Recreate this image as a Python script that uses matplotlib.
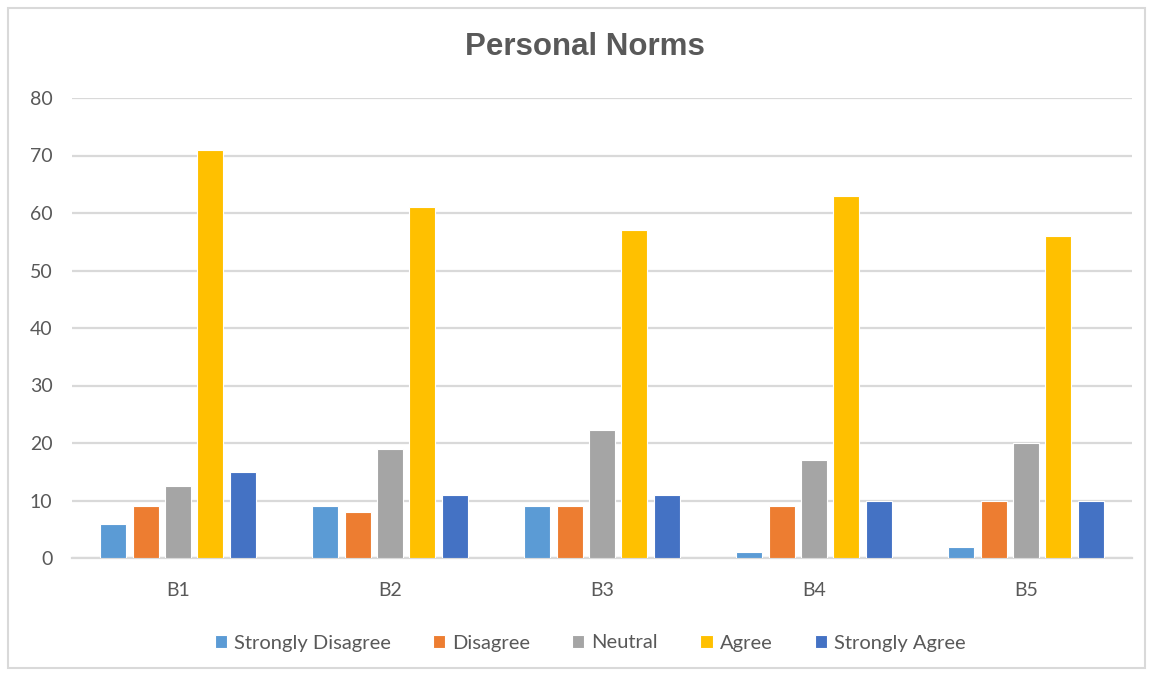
import matplotlib
matplotlib.use("Agg")
import matplotlib.pyplot as plt
from matplotlib.patches import Rectangle
import numpy as np

plt.rcParams['font.family'] = ['Lato', 'DejaVu Sans']

categories = ["B1", "B2", "B3", "B4", "B5"]
series_names = ["Strongly Disagree", "Disagree", "Neutral", "Agree", "Strongly Agree"]
strongly_disagree = [6, 9, 9, 1, 2]
disagree = [9, 8, 9, 9, 10]
neutral = [12.5, 19, 22.3, 17, 20]
agree = [71, 61, 57, 63, 56]
strongly_agree = [15, 11, 11, 10, 10]
y_ticks = [0, 10, 20, 30, 40, 50, 60, 70, 80]

series = [strongly_disagree, disagree, neutral, agree, strongly_agree]
colors = ["#5B9BD5", "#ED7D31", "#A5A5A5", "#FFC000", "#4472C4"]
text_color = "#595959"
grid_color = "#D9D9D9"

fig = plt.figure(figsize=(11.52, 6.75), dpi=100)
ax = fig.add_axes([72/1152, 1-558/675, (1132-72)/1152, (558-98)/675])

x = np.arange(len(categories))
pitch = 0.1524
width = 0.122
for i, (vals, name, c) in enumerate(zip(series, series_names, colors)):
    offset = (i - 2) * pitch
    ax.bar(x + offset, vals, width=width, color=c, edgecolor="white",
           linewidth=0.8, label=name, zorder=3)

ax.set_xlim(-0.5, len(categories) - 0.5)
ax.set_ylim(0, 80)
ax.set_yticks(y_ticks)
ax.set_xticks(x)
ax.set_xticklabels(categories)
ax.grid(axis="y", color=grid_color, linewidth=1.6, zorder=0)
ax.set_axisbelow(True)
for s in ["top", "right", "left"]:
    ax.spines[s].set_visible(False)
ax.spines["bottom"].set_color(grid_color)
ax.spines["bottom"].set_linewidth(1.6)
ax.tick_params(axis="both", length=0, labelsize=14, labelcolor=text_color)
ax.tick_params(axis="y", pad=14)
ax.tick_params(axis="x", pad=17)

fig.text(585/1152, 1-47/675, "Personal Norms", ha="center", va="center",
         fontsize=22.5, fontweight="bold", color=text_color,
         family=["Liberation Sans", "DejaVu Sans"])

leg = fig.legend(loc="center", bbox_to_anchor=(590/1152, 1-643/675), ncol=5,
                 frameon=False, fontsize=14.5, handlelength=0.6, handleheight=0.6,
                 handletextpad=0.35, columnspacing=2.1)
for t in leg.get_texts():
    t.set_color(text_color)

fig.patches.append(Rectangle((8/1152, 1-668/675), (1145-8)/1152, (668-8)/675,
                             transform=fig.transFigure, fill=False,
                             edgecolor=grid_color, linewidth=1.5))

fig.savefig("out.png", dpi=100, facecolor="white")
